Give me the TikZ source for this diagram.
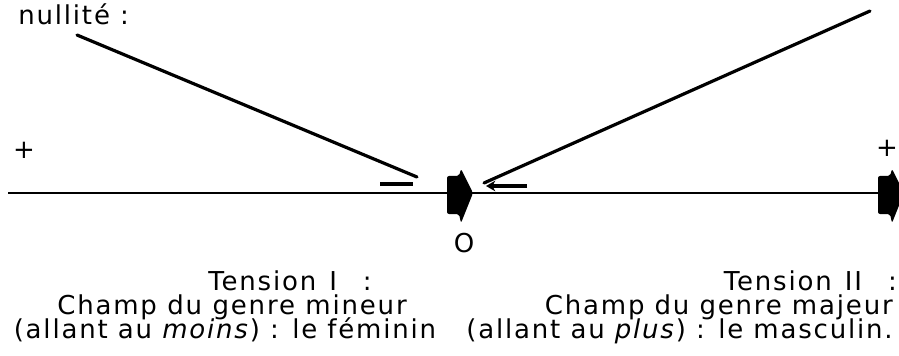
\documentclass[tikz,border=0pt]{standalone}
\usepackage{fontspec}
\setmainfont{DejaVu Sans}[LetterSpace=7]
\usetikzlibrary{arrows.meta}
\begin{document}
\begin{tikzpicture}[x=0.75pt, y=-0.75pt, every node/.style={font=\fontsize{19.5}{23}\selectfont, inner sep=0pt}]
\useasboundingbox (0,0) rectangle (899,356);
% heavy arrow tip, left edge at (#1,#2)
\newcommand{\fattip}[2]{%
  \fill[black, rounded corners=1.5pt] (#1+1,#2-17) -- (#1+13,#2-17) -- (#1+15,#2-24) -- (#1+27,#2) -- (#1+15,#2+30) -- (#1+13,#2+21) -- (#1+1,#2+21) -- cycle;}
% text above
\node[anchor=base west] (nul) at (18,25) {nullité :};
% axis
\coordinate (axl) at (8,193);
\coordinate (axr) at (880,193);
\coordinate (zero) at (449,193);
\draw[line width=1.6pt] (axl) -- (axr);
\fattip{446}{193}
\fattip{877}{193}
\node (plusl) at (24,150) {+};
\node (plusr) at (887,148) {+};
\node (zlab) at (464,243) {O};
% pointers
\coordinate (pa) at (77,35);
\coordinate (pb) at (417,177);
\coordinate (qa) at (870,11);
\coordinate (qb) at (484,183);
\draw[line width=2.4pt, line cap=round] (pa) -- (pb);
\draw[line width=2.4pt, line cap=round] (qa) -- (qb);
\coordinate (ma) at (380,184);
\coordinate (mb) at (413,184);
\draw[line width=2.4pt] (ma) -- (mb);
\coordinate (na) at (527,186);
\coordinate (nb) at (486,186);
\draw[line width=2.6pt, -{Stealth[length=7pt,width=8pt]}] (na) -- (nb);
% Tension I
\node[anchor=base] (t1a) at (290,290) {Tension\hspace{0.5em}I\hspace{1em}:};
\node[anchor=base] (t1b) at (232,314) {Champ\hspace{0.4em}du\hspace{0.4em}genre\hspace{0.4em}mineur};
\node[anchor=base] (t1c) at (225,338) {(allant au \textit{moins}) : le féminin};
% Tension II
\node[anchor=base east] (t2a) at (897,290) {Tension\hspace{0.5em}II\hspace{1em}:};
\node[anchor=base east] (t2b) at (893,314) {Champ du genre majeur};
\node[anchor=base east] (t2c) at (893,338) {(allant au \textit{plus}) : le masculin.};
\end{tikzpicture}
\end{document}
